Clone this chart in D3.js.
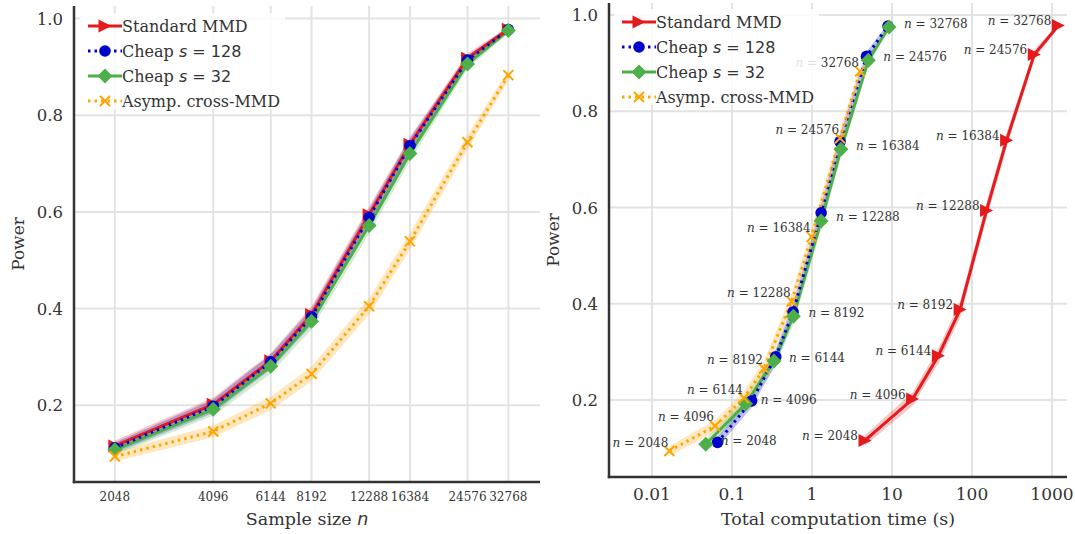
<!DOCTYPE html>
<html>
<head>
<meta charset="utf-8">
<script src="https://cdn.jsdelivr.net/npm/d3@7"></script>
<style>
  html, body { margin: 0; padding: 0; background: #fff; }
  svg { display: block; }
  text { font-family: "DejaVu Serif", serif; fill: #333; }
</style>
</head>
<body>
<svg id="chart" width="1075" height="534"></svg>
<script>
// ---------------- data ----------------
const sampleSizes = [2048, 4096, 6144, 8192, 12288, 16384, 24576, 32768];
const sampleTickLabels = ["2048", "4096", "6144", "8192", "12288", "16384", "24576", "32768"];

const powerStandard = [0.116, 0.202, 0.292, 0.388, 0.594, 0.740, 0.918, 0.978];
const powerCheap128 = [0.112, 0.198, 0.290, 0.383, 0.589, 0.737, 0.914, 0.977];
const powerCheap32  = [0.108, 0.192, 0.281, 0.374, 0.572, 0.721, 0.906, 0.975];
const powerAsymp    = [0.094, 0.146, 0.204, 0.265, 0.405, 0.539, 0.744, 0.883];

const timeStandard = [4.6, 18.1, 38, 71, 152, 271, 600, 1200];
const timeCheap128 = [0.066, 0.176, 0.352, 0.58, 1.30, 2.24, 4.8, 8.9];
const timeCheap32  = [0.047, 0.148, 0.335, 0.585, 1.30, 2.30, 5.06, 9.17];
const timeAsymp    = [0.0165, 0.0613, 0.141, 0.251, 0.557, 0.99, 2.24, 3.98];

const powerTicks = [0.2, 0.4, 0.6, 0.8, 1.0];
const timeTicks = [0.01, 0.1, 1, 10, 100, 1000];
const timeTickLabels = ["0.01", "0.1", "1", "10", "100", "1000"];

const seriesNames = ["Standard MMD", "Cheap s = 128", "Cheap s = 32", "Asymp. cross-MMD"];

// ---------------- styles ----------------
const styles = [
  { color: "#e41a1c", dash: null,  marker: "tri",     power: powerStandard, time: timeStandard, label: ["Standard MMD"] },
  { color: "#0000cd", dash: "2.5,4", marker: "circle", power: powerCheap128, time: timeCheap128, label: ["Cheap ", "s", " = 128"] },
  { color: "#4daf4a", dash: null,  marker: "diamond", power: powerCheap32,  time: timeCheap32,  label: ["Cheap ", "s", " = 32"] },
  { color: "#ffa500", dash: "2.5,4", marker: "x",      power: powerAsymp,    time: timeAsymp,    label: ["Asymp. cross-MMD"] }
];
const lineOrder = [2, 0, 1, 3];
const bandN = 3200; // width of the shaded confidence band (binomial CI)

const svg = d3.select("#chart");

function drawMarker(g, type, x, y, color) {
  if (type === "tri") {
    const s = 6.5;
    g.append("path")
      .attr("d", `M${x - s},${y - s} L${x + s},${y} L${x - s},${y + s} Z`)
      .attr("fill", color);
  } else if (type === "circle") {
    g.append("circle").attr("cx", x).attr("cy", y).attr("r", 5.8).attr("fill", color);
  } else if (type === "diamond") {
    const s = 7.5;
    g.append("path")
      .attr("d", `M${x},${y - s} L${x + s},${y} L${x},${y + s} L${x - s},${y} Z`)
      .attr("fill", color);
  } else if (type === "x") {
    const s = 5;
    g.append("path")
      .attr("d", `M${x - s},${y - s} L${x + s},${y + s} M${x - s},${y + s} L${x + s},${y - s}`)
      .attr("stroke", color).attr("stroke-width", 2).attr("fill", "none");
  }
}

function drawPanel(opt) {
  const x = opt.x, y = opt.y;
  const [x0, x1] = x.range();
  const [yb, yt] = y.range();
  const g = svg.append("g");

  // grid
  g.selectAll(".vg").data(opt.xTicks).enter().append("line")
    .attr("x1", d => x(d)).attr("x2", d => x(d)).attr("y1", yt).attr("y2", yb)
    .attr("stroke", "#e3e3e3").attr("stroke-width", 2);
  g.selectAll(".hg").data(powerTicks).enter().append("line")
    .attr("x1", x0).attr("x2", x1).attr("y1", d => y(d)).attr("y2", d => y(d))
    .attr("stroke", "#e3e3e3").attr("stroke-width", 2);

  const seriesPts = styles.map(s => s.power.map((p, i) => ({ xv: opt.xValue(s, i), p })));

  // bands
  styles.forEach((s, si) => {
    const area = d3.area()
      .x(d => x(d.xv))
      .y0(d => y(d.p - 1.96 * Math.sqrt(d.p * (1 - d.p) / bandN)))
      .y1(d => y(d.p + 1.96 * Math.sqrt(d.p * (1 - d.p) / bandN)));
    g.append("path").attr("d", area(seriesPts[si])).attr("fill", s.color).attr("fill-opacity", 0.25);
  });
  // lines
  lineOrder.forEach(si => {
    const s = styles[si];
    const line = d3.line().x(d => x(d.xv)).y(d => y(d.p));
    g.append("path").attr("d", line(seriesPts[si])).attr("fill", "none")
      .attr("stroke", s.color).attr("stroke-width", 3)
      .attr("stroke-dasharray", s.dash);
  });
  // markers
  styles.forEach((s, si) => {
    seriesPts[si].forEach(d => drawMarker(g, s.marker, x(d.xv), y(d.p), s.color));
  });

  if (opt.annotate) opt.annotate(g);

  // legend
  const lg = g.append("g");
  lg.append("rect").attr("x", opt.legend.x - 8).attr("y", opt.legend.y - 13)
    .attr("width", 205).attr("height", 96).attr("fill", "#fff").attr("fill-opacity", 0.85);
  styles.forEach((s, i) => {
    const ly = opt.legend.y + i * 25;
    const lx = opt.legend.x;
    lg.append("line").attr("x1", lx).attr("x2", lx + 34).attr("y1", ly).attr("y2", ly)
      .attr("stroke", s.color).attr("stroke-width", 3).attr("stroke-dasharray", s.dash);
    drawMarker(lg, s.marker, lx + 17, ly, s.color);
    const t = lg.append("text").attr("x", lx + 34).attr("y", ly + 6).attr("font-size", 16);
    if (s.label.length === 1) {
      t.text(s.label[0]);
    } else {
      t.append("tspan").text(s.label[0]);
      t.append("tspan").attr("font-family", "DejaVu Sans").attr("font-style", "italic").text(s.label[1]);
      t.append("tspan").attr("font-family", "DejaVu Sans").text(s.label[2]);
    }
  });

  // spines
  g.append("line").attr("x1", x0).attr("x2", x0).attr("y1", yt).attr("y2", yb + 1.25)
    .attr("stroke", "#333").attr("stroke-width", 2.5);
  g.append("line").attr("x1", x0 - 1.25).attr("x2", x1).attr("y1", yb).attr("y2", yb)
    .attr("stroke", "#333").attr("stroke-width", 2.5);

  // y tick labels
  g.selectAll(".yt").data(powerTicks).enter().append("text")
    .attr("x", x0 - 11).attr("y", d => y(d) + 6).attr("text-anchor", "end")
    .attr("font-size", 16.5).text(d => d3.format(".1f")(d));
  // x tick labels
  g.selectAll(".xt").data(opt.xTicks).enter().append("text")
    .attr("x", d => x(d)).attr("y", opt.xTickBaseline).attr("text-anchor", "middle")
    .attr("font-size", opt.xTickSize).text((d, i) => opt.xTickLabels[i]);

  // axis labels
  g.append("text").attr("transform", `translate(${opt.yLabelX},${(yt + yb) / 2}) rotate(-90)`)
    .attr("text-anchor", "middle").attr("font-size", 17).text("Power");
  const xl = g.append("text").attr("x", (x0 + x1) / 2).attr("y", 525)
    .attr("text-anchor", "middle").attr("font-size", 17.5);
  opt.xLabel(xl);
}

// ---------------- left panel ----------------
const xLeft = d3.scaleLog().base(2).domain([1536, 40960]).range([74, 540]);
const yLeft = d3.scaleLinear().domain([0.0414, 1.0259]).range([482, 6]);
drawPanel({
  x: xLeft, y: yLeft,
  xValue: (s, i) => sampleSizes[i],
  xTicks: sampleSizes, xTickLabels: sampleTickLabels, xTickSize: 12, xTickBaseline: 501,
  yLabelX: 24,
  legend: { x: 88, y: 26 },
  xLabel: t => {
    t.append("tspan").text("Sample size ");
    t.append("tspan").attr("font-family", "DejaVu Sans").attr("font-style", "italic").text("n");
  }
});

// ---------------- right panel ----------------
const xRight = d3.scaleLog().domain([0.0029, 1540]).range([609, 1067]);
const yRight = d3.scaleLinear().domain([0.04, 1.025]).range([477, 3]);
drawPanel({
  x: xRight, y: yRight,
  xValue: (s, i) => s.time[i],
  xTicks: timeTicks, xTickLabels: timeTickLabels, xTickSize: 17, xTickBaseline: 500,
  yLabelX: 559,
  legend: { x: 622, y: 22 },
  xLabel: t => t.text("Total computation time (s)"),
  annotate: g => {
    const addLabel = (xp, yp, n, anchor) => {
      const t = g.append("text").attr("x", xp).attr("y", yp).attr("text-anchor", anchor).attr("font-size", 12);
      t.append("tspan").attr("font-style", "italic").text("n");
      t.append("tspan").text(" = " + n);
    };
    sampleSizes.forEach((n, i) => {
      // Standard MMD labels (left of marker)
      addLabel(xRight(timeStandard[i]) - 7, yRight(powerStandard[i]) - 0.5, n, "end");
      // Cheap labels (right of marker)
      addLabel(xRight(timeCheap32[i]) + 15, yRight(powerCheap32[i]) + 0.5, n, "start");
      // Asymp labels (left, above marker)
      addLabel(xRight(timeAsymp[i]) - 1, yRight(powerAsymp[i]) - 4.5, n, "end");
    });
  }
});
</script>
</body>
</html>
